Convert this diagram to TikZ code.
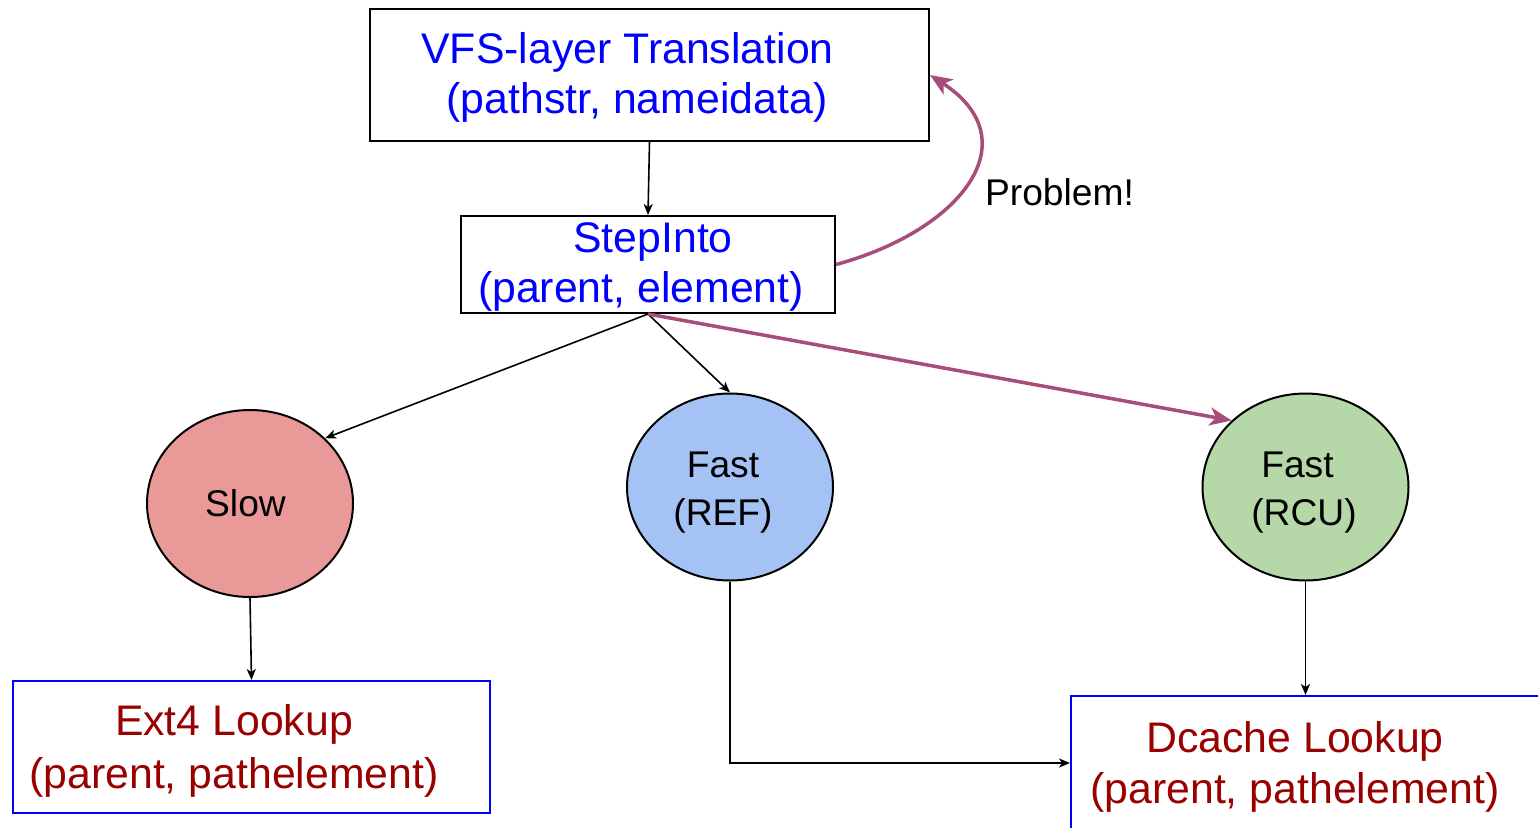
\documentclass[tikz,border=0pt]{standalone}
\usepackage{fontspec}
\setmainfont{Liberation Sans}
\usetikzlibrary{shapes.geometric,arrows.meta}

\definecolor{txtblue}{HTML}{0000FF}
\definecolor{txtred}{HTML}{990000}
\definecolor{plum}{HTML}{A64D79}
\definecolor{slowfill}{HTML}{EA9999}
\definecolor{reffill}{HTML}{A4C2F4}
\definecolor{rcufill}{HTML}{B6D7A8}

\tikzset{
  box/.style={draw=black, line width=1pt, rectangle, inner sep=0pt},
  lookupbox/.style={draw=txtblue, line width=1pt, rectangle, inner sep=0pt},
  pathnode/.style={ellipse, draw=black, line width=1pt, inner sep=0pt,
    minimum width=103pt, minimum height=93.5pt},
  bigtext/.style={inner sep=0pt, align=center, font=\fontsize{21.4}{25}\selectfont},
  smalltext/.style={inner sep=0pt, align=center, font=\fontsize{18.6}{24}\selectfont},
  flow/.style={draw=black, line width=0.8pt,
    -{Stealth[length=5.5pt, width=4.5pt, inset=1.5pt]}},
  hot/.style={draw=plum, line width=1.75pt,
    -{Stealth[length=11pt, width=9pt, inset=3pt]}},
}

\begin{document}
\begin{tikzpicture}[x=0.5pt, y=-0.5pt]
  \useasboundingbox (0,0) rectangle (1538,827);
  \clip (0,0) rectangle (1538,827);

  % boxes
  \node[box, minimum width=279.5pt, minimum height=66pt] (vfs) at (649.5,75) {};
  \node[box, minimum width=187pt, minimum height=48.5pt] (step) at (648,264.5) {};
  \node[lookupbox, minimum width=238.5pt, minimum height=66pt] (ext4) at (251.5,747) {};
  \node[lookupbox, minimum width=249.5pt, minimum height=67pt] (dc) at (1320.5,763) {};

  % lookup paths
  \node[pathnode, fill=slowfill] (slow) at (250,503.5) {};
  \node[pathnode, fill=reffill] (ref) at (730,487) {};
  \node[pathnode, fill=rcufill] (rcu) at (1305.5,487) {};

  % texts
  \node[bigtext, text=txtblue] (vfstxt) at (627.5,77.4)
    {VFS-layer Translation\\\hspace*{9.5pt}(pathstr, nameidata)};
  \node[bigtext, text=txtblue] (steptxt) at (641,267.4)
    {\hspace*{12pt}StepInto\\(parent, element)};
  \node[bigtext, text=txtred, font=\fontsize{21.4}{26.5}\selectfont] (ext4txt) at (234,751)
    {Ext4 Lookup\\(parent, pathelement)};
  \node[bigtext, text=txtred, font=\fontsize{21.4}{25.5}\selectfont] (dctxt) at (1295,767)
    {Dcache Lookup\\(parent, pathelement)};
  \node[smalltext] (slowtxt) at (245.5,503) {Slow};
  \node[smalltext] (reftxt) at (723,493) {Fast\\(REF)};
  \node[smalltext] (rcutxt) at (1304,493) {Fast\hspace*{6.5pt}\\(RCU)};
  \node[smalltext] (probtxt) at (1059.5,192) {Problem!};

  % connectors
  \draw[flow] (vfs.south) -- (step.north);
  \draw[flow] (step.south) -- (slow.41);
  \draw[flow] (step.south) -- (ref.north);
  \draw[hot] (step.south) -- (rcu.138);
  \draw[flow] (slow.south) -- (ext4.north);
  \draw[flow] (ref.south) |- (dc.west);
  \draw[flow] (rcu.south) -- (rcu.south |- dc.north);
  \draw[hot] (step.east) .. controls (961.6,230.4) and (1030.8,140.4) .. (vfs.east);
\end{tikzpicture}
\end{document}
